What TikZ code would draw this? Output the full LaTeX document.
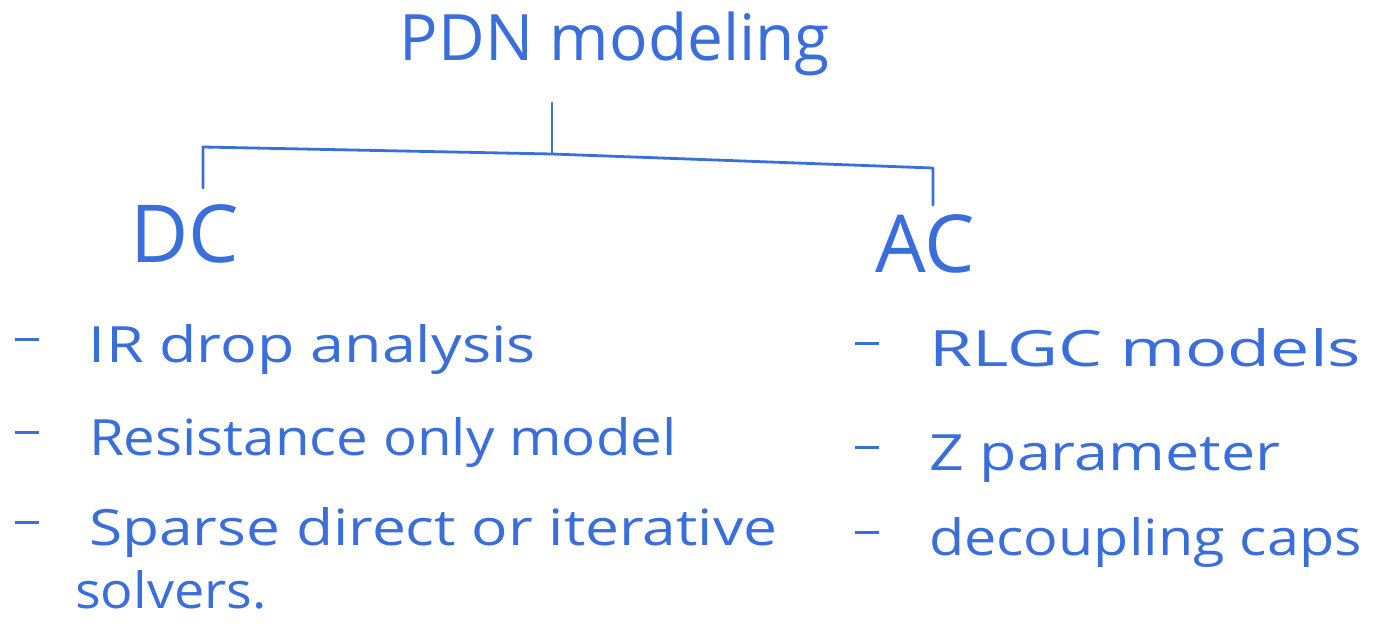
\documentclass[tikz,border=0pt]{standalone}
\usepackage{fontspec}
\setmainfont{Open Sans}
\definecolor{ink}{RGB}{58,110,218}
\newcommand\itemtxt[2]{\rule[10.5pt]{12pt}{1.6pt}\hspace{25pt}\scalebox{#1}[1]{#2}}
\begin{document}
\begin{tikzpicture}[x=0.5pt,y=-0.5pt,
  every node/.style={text=ink,inner sep=0pt,outer sep=0pt},
  title/.style={font=\fontsize{32}{36}\selectfont,anchor=base},
  branch/.style={font=\fontsize{40}{44}\selectfont,anchor=base},
  item/.style={font=\fontsize{25}{30}\selectfont,anchor=base west},
  wire/.style={draw=ink,line width=1.4pt,line cap=round,line join=round}]
\useasboundingbox (0,0) rectangle (1381,627);
\node[title] (pdn) at (615,60) {PDN modeling};
\node[branch] (dc) at (185,262) {DC};
\node[branch] (ac) at (925,272) {AC};
\coordinate (top) at (552,103);
\coordinate (mid) at (552,154);
\coordinate (lc) at (203,147);
\coordinate (ld) at (203,188);
\coordinate (rc) at (933,168);
\coordinate (rd) at (933,205);
\draw[wire] (top) -- (mid);
\draw[wire] (ld) -- (lc) -- (mid) -- (rc) -- (rd);
\node[item] (i1) at (15,362) {\itemtxt{1.22}{IR drop analysis}};
\node[item] (i2) at (15,455) {\itemtxt{1.13}{Resistance only model}};
\node[item] (i3) at (15,545) {\itemtxt{1.21}{Sparse direct or iterative}};
\node[item] (i4) at (75,608) {\scalebox{1.08}[1]{solvers.}};
\node[item] (j1) at (855,366) {\itemtxt{1.4}{RLGC models}};
\node[item] (j2) at (855,470) {\itemtxt{1.22}{Z parameter}};
\node[item] (j3) at (855,555) {\itemtxt{1.15}{decoupling caps}};
\end{tikzpicture}
\end{document}
